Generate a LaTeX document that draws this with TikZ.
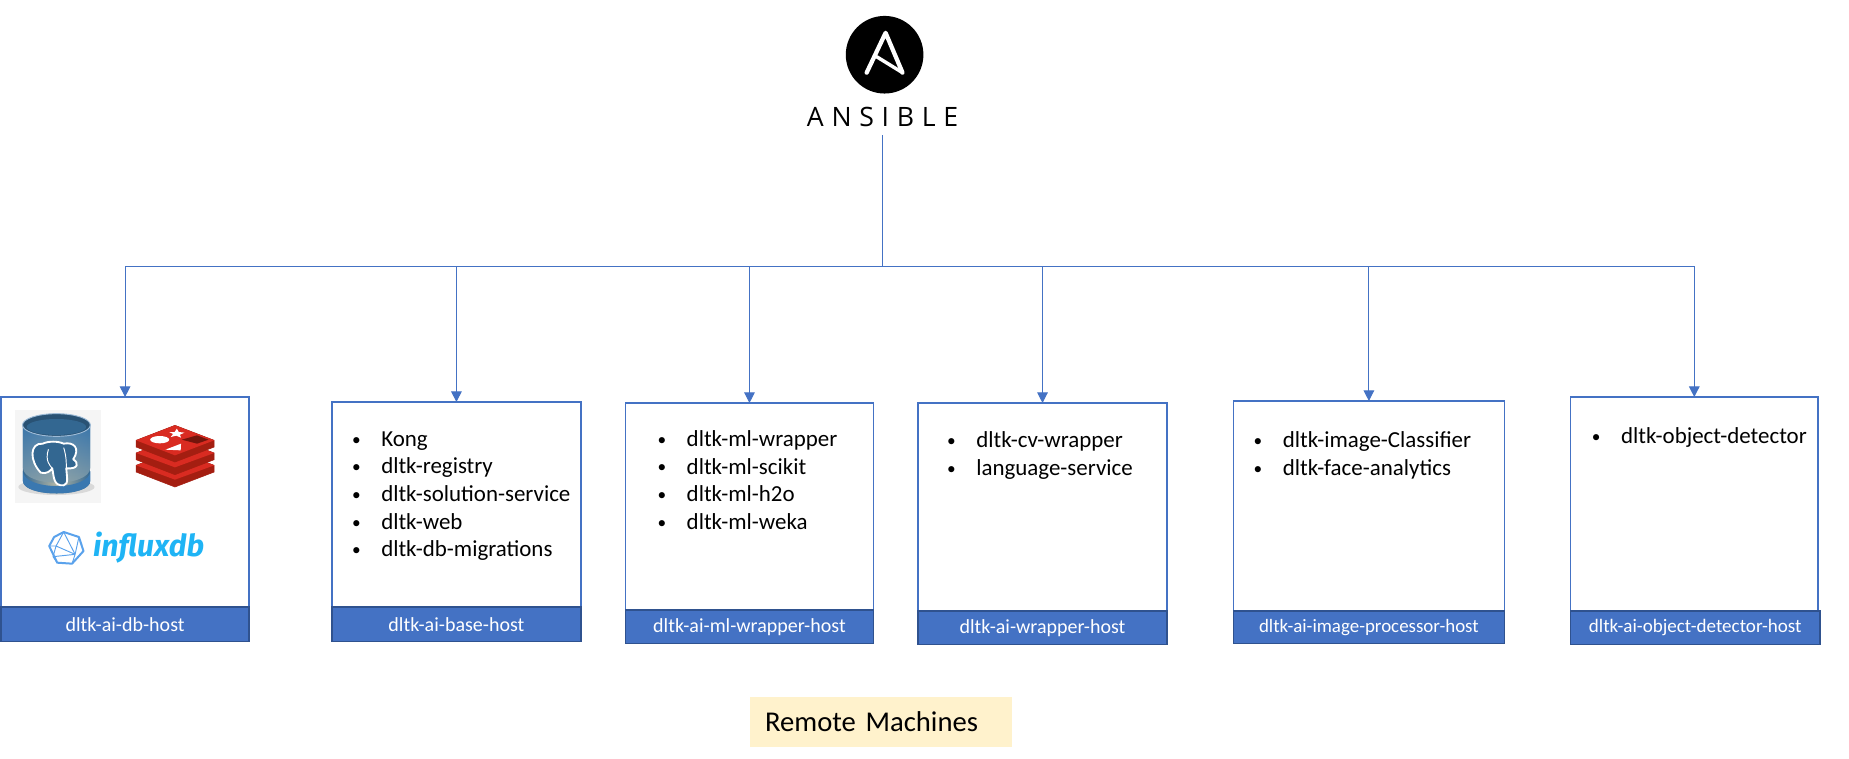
\documentclass[tikz,border=0pt]{standalone}
\usepackage{fontspec}
\setmainfont{Carlito}
\newfontfamily\logofont[LetterSpace=29]{Open Sans}
\newfontfamily\influxfont{Fira Sans}
\usetikzlibrary{arrows.meta,positioning}
\definecolor{hostblue}{HTML}{4472C4}
\definecolor{hostedge}{HTML}{2F528F}
\definecolor{remotefill}{HTML}{FFF2CC}
\definecolor{redisred}{HTML}{D92B21}
\definecolor{redisdark}{HTML}{A41E11}
\definecolor{influxblue}{HTML}{1FB4F5}
\definecolor{influxicon}{HTML}{5AA2EC}
\definecolor{pgblue}{HTML}{336791}
\definecolor{pgbody}{HTML}{3A78B0}
\definecolor{pgsand}{HTML}{B4B7A6}
\newcommand{\hostitem}[1]{\makebox[22.5pt][l]{\hspace{0.6pt}\raisebox{0.8pt}{\fontsize{13}{13}\selectfont\textbullet}}#1}
\begin{document}
\begin{tikzpicture}[x=0.7463pt,y=-0.7463pt]
                    \tikzstyle{every node}+=[inner sep=0pt,outer sep=0pt]
                    \tikzstyle{hostbox}=[draw=hostblue,line width=1.1pt,fill=white]
                    \tikzstyle{hosthead}=[draw=hostedge,line width=1.1pt,fill=hostblue,text=white,font=\fontsize{15}{17}\selectfont]
                    \tikzstyle{hostlist}=[anchor=north west,align=left,font=\fontsize{17.2}{20.8}\selectfont]
                    \tikzstyle{link}=[draw=hostblue,line width=0.75pt]
                    \tikzstyle{drop}=[link,-{Triangle[length=8pt,width=8pt]}]
                    \useasboundingbox (0,0) rectangle (1858.2,761.8);
                    \fill [white] (0,0) rectangle (1858.2,761.8);
                    \node (dbbox) [hostbox,minimum width=185.8pt,minimum height=157.5pt] at (125.7,504.5) {};
                    \node (dbhead) [hosthead,minimum width=185.8pt,minimum height=26pt] at (125.7,627.5) {dltk-ai-db-host};
                    \node (basebox) [hostbox,minimum width=186.8pt,minimum height=153.75pt] at (458.7,507) {};
                    \node (basehead) [hosthead,minimum width=186.8pt,minimum height=26pt] at (458.7,627.5) {dltk-ai-base-host};
                    \node (mlbox) [hostbox,minimum width=186.3pt,minimum height=155.25pt] at (753.2,509) {};
                    \node (mlhead) [hosthead,minimum width=186.3pt,minimum height=25.25pt] at (753.2,630) {dltk-ai-ml-wrapper-host};
                    \node (wrapbox) [hostbox,minimum width=186.8pt,minimum height=156pt] at (1047.7,509.5) {};
                    \node (wraphead) [hosthead,minimum width=186.8pt,minimum height=25.25pt] at (1047.7,631) {dltk-ai-wrapper-host};
                    \node (imagebox) [hostbox,minimum width=203.3pt,minimum height=157.5pt] at (1375.7,508.5) {};
                    \node (imagehead) [hosthead,minimum width=203.3pt,minimum height=24.5pt,font=\fontsize{14.2}{16}\selectfont] at (1375.7,630.5) {dltk-ai-image-processor-host};
                    \node (objectbox) [hostbox,minimum width=185.3pt,minimum height=160.5pt] at (1702.7,506.5) {};
                    \node (objecthead) [hosthead,minimum width=186.8pt,minimum height=25.25pt,font=\fontsize{14.3}{16}\selectfont] at (1703.7,631) {dltk-ai-object-detector-host};
                    \node (baselist) [hostlist] at (353,433.5) {\hostitem{Kong}\\\hostitem{dltk-registry}\\\hostitem{dltk-solution-service}\\\hostitem{dltk-web}\\\hostitem{dltk-db-migrations}};
                    \node (mllist) [hostlist] at (660,432.5) {\hostitem{dltk-ml-wrapper}\\\hostitem{dltk-ml-scikit}\\\hostitem{dltk-ml-h2o}\\\hostitem{dltk-ml-weka}};
                    \node (wraplist) [hostlist] at (951,434) {\hostitem{dltk-cv-wrapper}\\\hostitem{language-service}};
                    \node (imagelist) [hostlist] at (1259,434) {\hostitem{dltk-image-Classifier}\\\hostitem{dltk-face-analytics}};
                    \node (objectlist) [hostlist] at (1599,430) {\hostitem{dltk-object-detector}};
                    \node (remote) [fill=remotefill,minimum width=196.5pt,minimum height=38pt,text width=174.5pt,align=left,inner xsep=11pt,font=\fontsize{21.5}{24}\selectfont] at (885.8,725.5) {Remote Machines};
                    \fill [black] (889,55) circle (39);
                    \draw [white,line width=3.2pt,line join=round,line cap=round] (871,73) -- (890,33) -- (907,73);
                    \draw [white,line width=2.6pt,line cap=round] (881,57) -- (907,73);
                    \node (ansible) at (887,118) {\logofont\fontsize{20}{22}\selectfont ANSIBLE};
                    \coordinate (tap) at (887,136);
                    \coordinate (hub) at (887,268);
                    \draw [link] (tap) -- (hub);
                    \draw [drop] (hub) -| (dbbox.north);
                    \draw [drop] (hub) -| (basebox.north);
                    \draw [drop] (hub) -| (mlbox.north);
                    \draw [drop] (hub) -| (wrapbox.north);
                    \draw [drop] (hub) -| (imagebox.north);
                    \draw [drop] (hub) -| (objectbox.north);
                    \begin{scope}[shift={(0.8,382.9)},xscale=0.383,yscale=0.335]
                    \fill [black!4] (37,87) rectangle (264,365);
                    \fill [black!15] (146,318) ellipse (100 and 24);
                    \shade [left color=pgblue,right color=pgblue,middle color=pgsand] (58,130) -- (58,300) .. controls (60,350) and (233,350) .. (235,300) -- (235,130) -- cycle;
                    \shade [top color=pgbody,bottom color=pgbody!30!pgsand,opacity=0.85] (58,130) -- (58,260) .. controls (60,320) and (233,320) .. (235,260) -- (235,130) -- cycle;
                    \fill [pgbody] (58,270) .. controls (60,330) and (233,330) .. (235,270) -- (235,300) .. controls (233,350) and (60,350) .. (58,300) -- cycle;
                    \fill [pgblue!80!black] (146,132) ellipse (89 and 34);
                    \draw [pgbody!50!white,line width=0.7pt] (146,132) ellipse (89 and 34);
                    \fill [pgblue] (146,138) ellipse (78 and 24);
                    \draw [white,line width=1.4pt,fill=pgblue,line join=round] (110,188) .. controls (75,185) and (75,240) .. (105,275) .. controls (120,280) and (130,270) .. (135,262) .. controls (140,290) and (138,315) .. (165,313) .. controls (180,310) and (172,280) .. (172,262) .. controls (205,265) and (205,245) .. (190,235) .. controls (210,200) and (190,182) .. (165,188) .. controls (150,180) and (125,180) .. (110,188) -- cycle;
                    \draw [white,line width=0.7pt] (125,205) .. controls (115,240) and (130,255) .. (135,262) (165,200) .. controls (172,225) and (172,245) .. (172,262);
                    \begin{scope}[yshift=1.5pt]
                    \draw [redisdark,fill=redisdark] (355,255) -- (457,210) -- (560,255) -- (560,275) -- (457,320) -- (355,275) -- cycle;
                    \fill [redisred] (355,255) -- (457,210) -- (560,255) -- (457,298) -- cycle;
                    \draw [redisdark,fill=redisdark] (355,218) -- (457,173) -- (560,218) -- (560,238) -- (457,283) -- (355,238) -- cycle;
                    \fill [redisred] (355,218) -- (457,173) -- (560,218) -- (457,261) -- cycle;
                    \draw [redisdark,fill=redisdark] (355,180) -- (457,135) -- (560,180) -- (560,200) -- (457,245) -- (355,200) -- cycle;
                    \fill [redisred] (355,180) -- (457,135) -- (560,180) -- (457,225) -- cycle;
                    \fill [white] (417,178) ellipse (25 and 11);
                    \fill [white] (432,208) -- (473,190) -- (472,210) -- cycle;
                    \fill [white] (462,145) -- (467,155) -- (482,157) -- (470,163) -- (473,172) -- (460,166) -- (446,170) -- (452,161) -- (442,155) -- (456,155) -- cycle;
                    \fill [redisdark!70!black] (475,178) -- (515,165) -- (545,178) -- (515,190) -- cycle;
                    \end{scope}
                    \draw [influxicon,line width=1.5pt,line join=round] (165,453) -- (205,468) -- (217,510) -- (187,548) -- (148,545) -- (127,495) -- (140,468) -- cycle;
                    \draw [influxicon,line width=0.7pt,line join=round] (165,453) -- (145,495) -- (127,495) (145,495) -- (137,527) (145,495) -- (195,520) -- (205,468) (195,520) -- (187,548) (195,520) -- (137,527) -- (148,545) (165,453) -- (195,520);
                    \node (influx) at (388,500) {\influxfont\bfseries\itshape\color{influxblue}\fontsize{22.7}{25}\selectfont influxdb};
                    \end{scope}
\end{tikzpicture}
\end{document}
